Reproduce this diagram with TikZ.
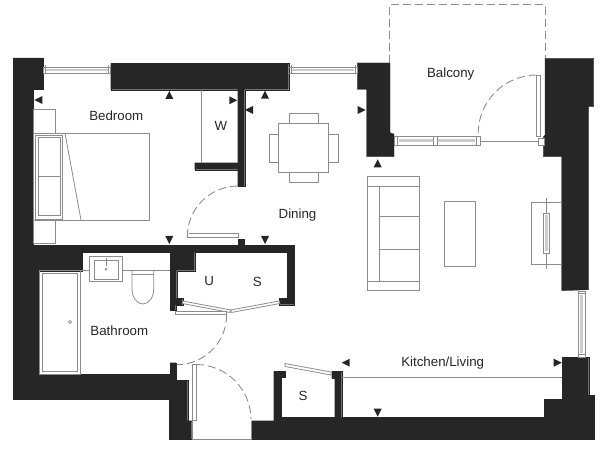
\documentclass[tikz,border=0pt]{standalone}
\usepackage{fontspec}
\setmainfont{Liberation Sans}
\usepackage{xcolor}
\definecolor{wallcol}{HTML}{262626}
\definecolor{fitcol}{HTML}{8C8C8C}
\begin{document}
\begin{tikzpicture}[x=1pt,y=-1pt,
    wall/.style = {fill=wallcol, draw=wallcol, line width=0.3pt},
    fitline/.style = {draw=fitcol, line width=0.8pt},
    leaf/.style = {draw=fitcol, line width=0.8pt, fill=white},
    pane/.style = {draw=none, fill=fitcol!45},
    swing/.style = {draw=fitcol, line width=0.9pt, dash pattern=on 8pt off 4pt},
    roomname/.style = {text=wallcol, font=\fontsize{13.3}{15}\selectfont},
    levelmark/.style = {fill=wallcol, draw=none}]
  \useasboundingbox (0,0) rectangle (600,449);
  % walls
  \fill[wall] (13,58) -- (43,58) -- (43,89.5) -- (33,89.5) -- (33,245.5) -- (294,245.5)
    -- (294,304.7) -- (279.3,304.7) -- (279.3,298) -- (287,298) -- (287,252.5) -- (194.7,252.5)
    -- (194.7,270.7) -- (176.7,270.7) -- (176.7,298.3) -- (182.7,298.3) -- (182.7,305)
    -- (175.7,305) -- (175.7,310) -- (170,310) -- (170,252.5) -- (82.3,252.5) -- (82.3,270.7)
    -- (39.3,270.7) -- (39.3,374) -- (170,374) -- (170,362.7) -- (176,362.7) -- (176,380)
    -- (187.7,380) -- (187.7,420.7) -- (191.7,420.7) -- (191.7,439) -- (169,439) -- (169,399)
    -- (13,399) -- cycle;
  \fill[wall] (237.7,239) rectangle (244.3,245.5);
  \fill[wall] (110.7,63.3) -- (288.7,63.3) -- (288.7,89.7) -- (244.7,89.7) -- (244.7,186)
    -- (237.7,186) -- (237.7,169.7) -- (194.7,169.7) -- (194.7,162.7) -- (237.7,162.7)
    -- (237.7,89.7) -- (110.7,89.7) -- cycle;
  \fill[wall] (357.3,63) -- (390,63) -- (390,132.7) -- (394,134) -- (394,156.7) -- (366.7,156.7)
    -- (366.7,89.3) -- (357.3,89.3) -- cycle;
  \fill[wall] (545,58.3) -- (593.7,58.3) -- (593.7,106.7) -- (588.7,106.7) -- (588.7,289.7)
    -- (561.7,290.7) -- (561.7,156.7) -- (543.3,156.7) -- (543.3,136.7) -- (545,135) -- cycle;
  \fill[wall] (562,357.3) -- (588.7,357.3) -- (588.7,395) -- (594,395) -- (594,439) -- (251.7,439)
    -- (251.7,420.7) -- (273.7,420.7) -- (273.7,371.3) -- (285,371.3) -- (285,377) -- (281,377)
    -- (281,417.3) -- (334.7,417.3) -- (334.7,378) -- (331.7,378) -- (331.7,371.3) -- (341.7,371.3)
    -- (341.7,417.3) -- (544,417.3) -- (544,399.3) -- (562,399.3) -- cycle;
  % windows
  \draw[fitline] (43.3,67) rectangle (110.7,73.3);
  \fill[pane] (46,69) rectangle (108,71.3);
  \draw[fitline] (45.5,65.5) -- (45.5,74.5) (108.5,65.5) -- (108.5,74.5);
  \draw[fitline] (288.7,67) rectangle (357.3,73.3);
  \fill[pane] (292,69) rectangle (354,71.3);
  \draw[fitline] (291,65.5) -- (291,74.5) (355,65.5) -- (355,74.5);
  \draw[fitline] (394,136.5) rectangle (480,145);
  \fill[pane] (399,139) rectangle (432.5,142.5);
  \fill[pane] (438,139) rectangle (475,142.5);
  \draw[fitline] (397.5,136.5) -- (397.5,145) (433.5,136.5) -- (433.5,145)
    (437,136.5) -- (437,145) (476,136.5) -- (476,145);
  \draw[fitline] (578,291) rectangle (585,357);
  \fill[pane] (580,295) rectangle (583,353);
  \draw[fitline] (578,293.5) -- (585,293.5) (578,354.5) -- (585,354.5);
  % balcony
  \draw[swing] (389.3,63) -- (389.3,4.7) -- (545,4.7) -- (545,58);
  \draw[leaf] (536.7,75) rectangle (540.7,136.7);
  \draw[swing] (536.7,75) arc[start angle=-90,end angle=-180,radius=58.5];
  \draw[fitline] (480,141.3) -- (539,141.3);
  \draw[leaf] (538.7,138) rectangle (544,145);
  % bedroom
  \draw[fitline] (33.3,109.3) rectangle (55.7,133.3);
  \draw[fitline] (33.3,220) rectangle (55.7,243.3);
  \draw[fitline] (33.3,133.3) rectangle (149,220);
  \draw[fitline] (35.7,135) rectangle (62.7,219.3);
  \draw[fitline] (38.3,137.7) rectangle (60,215);
  \draw[fitline] (38.3,176) -- (60,176);
  \draw[fitline] (65,133.3) -- (81,220);
  \draw[fitline] (201,89.7) -- (201,162.7);
  % dining table
  \draw[fitline] (278.7,123.3) rectangle (328.3,172.7);
  \draw[fitline] (269.3,134) rectangle (278.7,162.3);
  \draw[fitline] (328.3,134) rectangle (338.3,162.3);
  \draw[fitline] (289.3,113.7) rectangle (318.3,123.3);
  \draw[fitline] (289.3,172.7) rectangle (318.3,182.3);
  % living room
  \draw[fitline] (367.3,176.7) rectangle (419.3,290.7);
  \draw[fitline] (367.3,186) -- (419.3,186) (367.3,281) -- (419.3,281);
  \draw[fitline] (379.3,186) -- (379.3,281);
  \draw[fitline] (379.3,216.7) -- (419.3,216.7) (379.3,249.3) -- (419.3,249.3);
  \draw[fitline] (444,201) rectangle (475.3,266);
  \draw[fitline] (531,202.7) rectangle (561.7,264.7);
  \draw[fitline] (546.7,198) -- (546.7,269);
  \draw[leaf] (543.5,213.3) rectangle (549.5,253.3);
  \fill[pane] (545.3,215) rectangle (547.7,251.5);
  \draw[fitline] (341.7,377.7) -- (562,377.7);
  % doors
  \draw[fitline] (187.3,231.7) -- (187.3,237.5) -- (238,237.5) -- (238,233) -- (188.5,233);
  \draw[swing] (238,186) arc[start angle=-90,end angle=-180,radius=50.7];
  \draw[leaf] (182.7,301) -- (230.7,310) -- (230,312.5) -- (182.2,303.5) -- cycle;
  \draw[leaf] (279.3,301) -- (230.7,310) -- (231.4,312.5) -- (279.8,303.5) -- cycle;
  \draw[leaf] (175.7,311) rectangle (226.7,314.7);
  \draw[swing] (226.7,314.7) arc[start angle=0,end angle=90,radius=50];
  \draw[leaf] (192.7,364.3) rectangle (196,420.7);
  \draw[swing] (196,364.5) arc[start angle=-90,end angle=0,radius=55];
  \draw[fitline] (192.5,420.7) -- (192.5,439) -- (251,439) -- (251,420.7);
  \draw[leaf] (285,363.5) -- (331,372) -- (331,375) -- (285,366.5) -- cycle;
  % bathroom
  \draw[fitline] (39.3,270.7) rectangle (80.7,374);
  \draw[fitline] (42.3,273.3) rectangle (77.3,371.7);
  \draw[fitline] (70,322) circle (1.6);
  \draw[fitline] (80.7,270.7) -- (170,270.7);
  \draw[leaf] (89.3,256) rectangle (122.7,281.7);
  \draw[fitline] (94,260.7) rectangle (118.7,279.3);
  \draw[fitline] (106,258.3) -- (106,266);
  \fill[fitcol] (106,269.3) circle (1.4);
  \draw[fitline] (132,270.7) -- (132,289) arc[start angle=180,end angle=0,x radius=10.85,y radius=15]
    -- (153.7,270.7);
  \draw[fitline] (132,274) -- (153.7,274);
  % level marks
  \foreach \tx/\ty in {169.3/91, 265/90.7, 377.7/159.3}
    \fill[levelmark] (\tx,\ty) -- (\tx+4,\ty+8) -- (\tx-4,\ty+8) -- cycle;
  \foreach \tx/\ty in {169.3/244, 265/244, 377.7/416.7}
    \fill[levelmark] (\tx,\ty) -- (\tx+4,\ty-8) -- (\tx-4,\ty-8) -- cycle;
  \foreach \tx/\ty in {34.3/100, 245/110, 341.7/362.7}
    \fill[levelmark] (\tx,\ty) -- (\tx+8,\ty-4) -- (\tx+8,\ty+4) -- cycle;
  \foreach \tx/\ty in {237.3/100.3, 365.7/110, 561.7/362.7}
    \fill[levelmark] (\tx,\ty) -- (\tx-8,\ty-4) -- (\tx-8,\ty+4) -- cycle;
  % room names
  \node (bedroom) [roomname] at (116.3,116) {Bedroom};
  \node (wardrobe) [roomname] at (221,126) {W};
  \node (balcony) [roomname] at (450.7,74) {Balcony};
  \node (dining) [roomname] at (297.5,215) {Dining};
  \node (utility) [roomname] at (209.3,281) {U};
  \node (store) [roomname] at (257.3,282) {S};
  \node (bathroom) [roomname] at (119.3,330.7) {Bathroom};
  \node (hallstore) [roomname] at (303,396) {S};
  \node (kitchen) [roomname] at (442.7,363.3) {Kitchen/Living};
\end{tikzpicture}
\end{document}
